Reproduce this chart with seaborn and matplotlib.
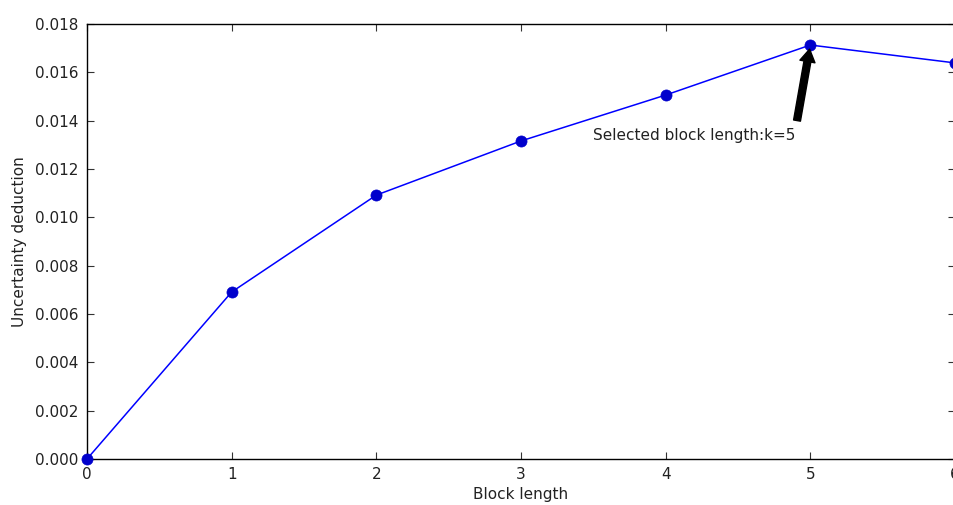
import matplotlib
matplotlib.use("Agg")
import matplotlib.pyplot as plt
import seaborn as sns
import pandas as pd

block_length = [0, 1, 2, 3, 4, 5, 6]
uncertainty = [0.0, 0.00691, 0.01092, 0.01316, 0.01506, 0.01713, 0.01639]
y_ticks = [0.000, 0.002, 0.004, 0.006, 0.008, 0.010, 0.012, 0.014, 0.016, 0.018]
annot_text = "Selected block length:k=5"

sns.set_theme(style="white")
plt.rcParams["font.family"] = ["DejaVu Sans"]

df = pd.DataFrame({"Block length": block_length, "Uncertainty deduction": uncertainty})

fig = plt.figure(figsize=(9.54, 5.05), dpi=100)
W, H = 954, 505
ax = fig.add_axes([87 / W, 1 - 459 / H, (955 - 87) / W, (459 - 24) / H])

sns.lineplot(data=df, x="Block length", y="Uncertainty deduction", ax=ax,
             color="blue", linewidth=1.1, marker="o", markersize=8,
             markeredgecolor="#0000cc", markerfacecolor="#0000cc",
             markeredgewidth=0.5, clip_on=False, zorder=3)

ax.set_xlim(0, 6)
ax.set_ylim(0, 0.018)
ax.set_xticks(block_length)
ax.set_yticks(y_ticks)
ax.set_yticklabels([f"{v:.3f}" for v in y_ticks])
ax.tick_params(direction="in", length=5, width=0.8, color="#333333",
               top=True, right=True, bottom=True, left=True,
               labelsize=11, labelcolor="#222222", pad=6)
ax.set_xlabel("Block length", fontsize=11, color="#222222", labelpad=3)
ax.set_ylabel("Uncertainty deduction", fontsize=11, color="#222222", labelpad=6)
for s in ax.spines.values():
    s.set_color("black")
    s.set_linewidth(1.0)

ax.annotate(annot_text, xy=(5, 0.01713), xytext=(3.5, 0.0132),
            fontsize=11, color="#222222",
            arrowprops=dict(facecolor="black", edgecolor="black", shrink=0.05,
                            width=5, headwidth=11, headlength=9))

fig.savefig("out.png", dpi=100, facecolor="white")
